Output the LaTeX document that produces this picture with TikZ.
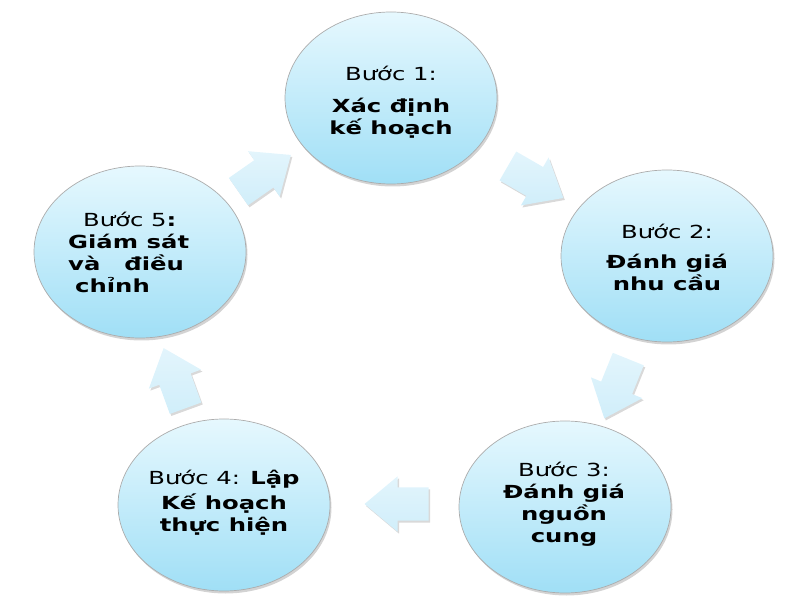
\documentclass[tikz,border=0pt]{standalone}
\usepackage{fontspec}
\setmainfont{DejaVu Sans}[FakeStretch=1.35]
\usetikzlibrary{shapes.geometric,shapes.arrows,shadows,calc}
\definecolor{ctop}{HTML}{E6F8FE}
\definecolor{cbot}{HTML}{A0DFF6}
\definecolor{afill}{HTML}{D0EEFA}
\begin{document}
\begin{tikzpicture}[x=1pt,y=1pt,
  stepcircle/.style={ellipse, minimum width=212pt, minimum height=172pt, inner sep=0pt,
    draw=gray!65, line width=0.7pt, top color=ctop, bottom color=cbot,
    drop shadow={shadow xshift=1.5pt, shadow yshift=-2.5pt, opacity=0.35, fill=gray}},
  blockarrow/.style={single arrow, minimum height=64pt, minimum width=55pt,
    single arrow head extend=11pt, single arrow tip angle=80, inner xsep=0pt, inner ysep=16.5pt,
    top color=afill!60!white, bottom color=afill, draw=none,
    drop shadow={shadow xshift=1.5pt, shadow yshift=-2pt, opacity=0.3, fill=gray}},
  txt/.style={align=center, font=\fontsize{18}{22}\selectfont, inner sep=0pt}
]
\useasboundingbox (0,0) rectangle (800,600);
% circles
\node[stepcircle] (e1) at (391,502) {};
\node[stepcircle] (e2) at (667,344) {};
\node[stepcircle] (e3) at (565,93) {};
\node[stepcircle] (e4) at (224,95) {};
\node[stepcircle] (e5) at (140,348) {};
% texts
\node[txt] (t1) at (391,498) {Bước 1:\\[10pt]\textbf{Xác định}\\\textbf{kế hoạch}};
\node[txt] (t2) at (667,343) {Bước 2:\\[8pt]\textbf{Đánh giá}\\\textbf{nhu cầu}};
\node[txt] (t3) at (564,96) {Bước 3:\\\textbf{Đánh giá}\\\textbf{nguồn}\\\textbf{cung}};
\node[txt] (t4) at (224,97) {Bước 4: \textbf{Lập}\\[3pt]\textbf{Kế hoạch}\\\textbf{thực hiện}};
\node[txt, align=left, anchor=west] (t5) at (68,348) {\hspace*{15pt}Bước 5\textbf{:}\\\textbf{Giám sát}\\\textbf{và}\hspace{24pt}\textbf{điều}\\\hspace*{7pt}\textbf{chỉnh}};
% block arrows
\node[blockarrow, rotate=35] (a1) at ($(e5)!0.5!(e1)+(-9,-4)$) {};
\node[blockarrow, rotate=-30] (a2) at ($(e1)!0.5!(e2)+(-2,0)$) {};
\node[blockarrow, rotate=-112] (a3) at ($(e2)!0.5!(e3)+(4,2)$) {};
\node[blockarrow, rotate=180] (a4) at ($(e3)!0.5!(e4)+(12,2)$) {};
\node[blockarrow, rotate=110] (a5) at ($(e4)!0.5!(e5)+(-4,-9)$) {};
\end{tikzpicture}
\end{document}
